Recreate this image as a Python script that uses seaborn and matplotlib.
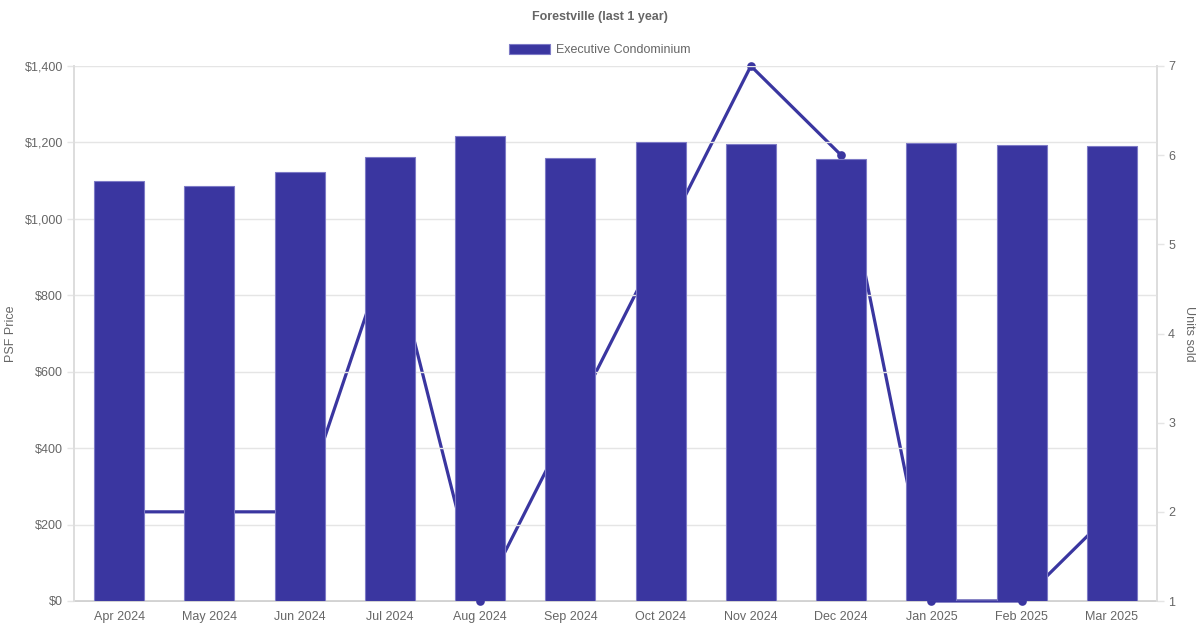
import matplotlib
matplotlib.use("Agg")
import matplotlib.pyplot as plt
import matplotlib.ticker as mticker
from matplotlib.patches import Patch
import pandas as pd
import seaborn as sns

months = ["Apr 2024", "May 2024", "Jun 2024", "Jul 2024", "Aug 2024", "Sep 2024",
          "Oct 2024", "Nov 2024", "Dec 2024", "Jan 2025", "Feb 2025", "Mar 2025"]
psf_price = [1100, 1085, 1122, 1162, 1218, 1159, 1202, 1196, 1157, 1199, 1193, 1191]
units_sold = [2, 2, 2, 5, 1, 3, 5, 7, 6, 1, 1, 2]

BAR_COLOR = "#3a36a0"
EDGE_COLOR = "#7d7ac6"
TEXT_COLOR = "#666666"
GRID_COLOR = "#e5e5e5"

sns.set_theme(style="white")
plt.rcParams["font.family"] = ["Liberation Sans", "DejaVu Sans"]

df = pd.DataFrame({"month": months, "psf": psf_price, "units": units_sold})

fig = plt.figure(figsize=(12, 6.3), dpi=100)
ax = fig.add_axes([74 / 1200, 1 - 601 / 630, (1157 - 74) / 1200, (601 - 66) / 630])
ax_units = ax.twinx()

# bars sit above the units line, like the original
ax.set_zorder(2)
ax.patch.set_visible(False)
ax_units.set_zorder(1)

sns.barplot(data=df, x="month", y="psf", ax=ax, color=BAR_COLOR, width=0.555,
            saturation=1, edgecolor=EDGE_COLOR, linewidth=0.8, zorder=3)
sns.pointplot(data=df, x="month", y="units", ax=ax_units, color=BAR_COLOR,
              markers="o", markersize=4.5, linewidth=2.3)
for ln in ax_units.lines:
    ln.set_clip_on(False)
    ln.set_zorder(4)
for coll in ax_units.collections:
    coll.set_clip_on(False)
    coll.set_zorder(4)

ax.set_xlim(-0.5, 11.5)
ax.set_ylim(0, 1400)
ax.yaxis.set_major_locator(mticker.MultipleLocator(200))
ax.yaxis.set_major_formatter(mticker.FuncFormatter(lambda v, p: f"${v:,.0f}"))
ax_units.set_ylim(1, 7)
ax_units.yaxis.set_major_locator(mticker.MultipleLocator(1))

ax.grid(axis="y", color=GRID_COLOR, linewidth=1, zorder=0)
ax.set_axisbelow(True)
ax_units.grid(False)

for a in (ax, ax_units):
    a.spines["top"].set_visible(False)
    a.spines["left"].set_color("#dddddd")
    a.spines["right"].set_color("#dddddd")
# bottom axis line drawn under the units line
ax.spines["bottom"].set_visible(False)
ax_units.spines["bottom"].set_color("#cccccc")
ax_units.spines["bottom"].set_zorder(1)

ax.tick_params(axis="y", direction="out", length=5, width=1, color=GRID_COLOR,
               labelsize=9, labelcolor=TEXT_COLOR, pad=3, left=True)
ax.tick_params(axis="x", length=0, labelsize=9, labelcolor=TEXT_COLOR, pad=7)
ax_units.tick_params(axis="y", direction="out", length=5, width=1, color=GRID_COLOR,
                     labelsize=9, labelcolor=TEXT_COLOR, pad=3, right=True)

ax.set_xlabel("")
ax.set_ylabel("PSF Price", fontsize=9, color=TEXT_COLOR, va="center")
ax.yaxis.set_label_coords((11 - 74) / 1083, 0.5)
ax_units.set_xlabel("")
ax_units.set_ylabel("Units sold", fontsize=9, color=TEXT_COLOR, rotation=270, va="center")
ax_units.yaxis.set_label_coords((1189 - 74) / 1083, 0.5)

fig.text(0.5, 1 - 17 / 630, "Forestville (last 1 year)", ha="center", va="center",
         fontsize=9, fontweight="bold", color=TEXT_COLOR)

handle = Patch(facecolor=BAR_COLOR, edgecolor=EDGE_COLOR, linewidth=0.8)
fig.legend([handle], ["Executive Condominium"], loc="center", bbox_to_anchor=(0.5, 1 - 50 / 630),
           frameon=False, fontsize=9, labelcolor=TEXT_COLOR, handlelength=3.3,
           handleheight=0.9, handletextpad=0.5)

fig.savefig("out.png", dpi=100)
